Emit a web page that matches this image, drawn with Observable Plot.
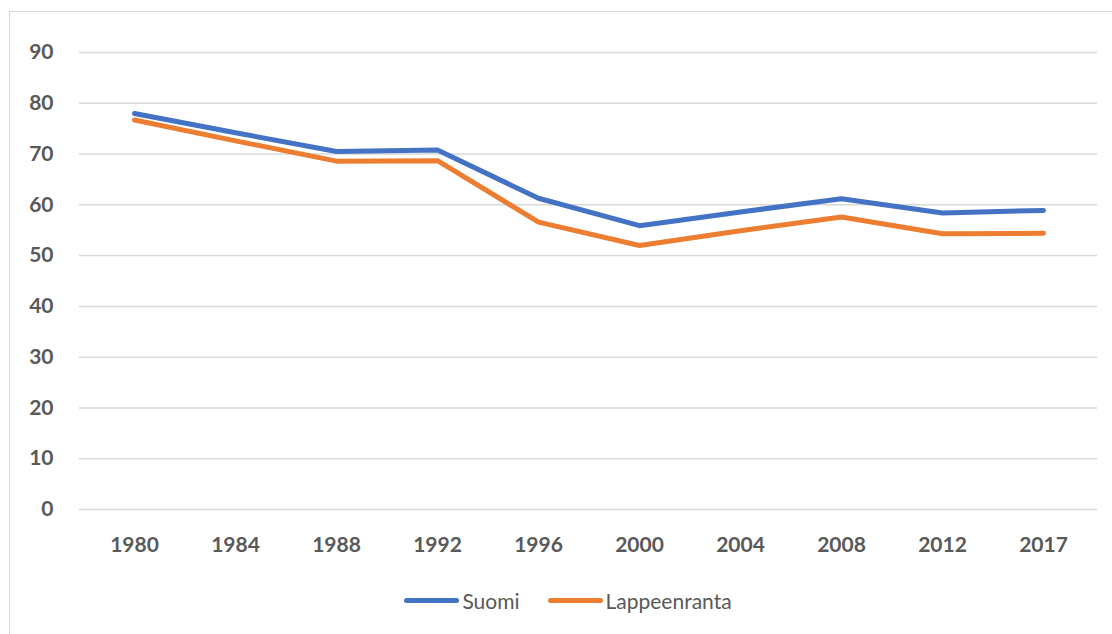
<!DOCTYPE html>
<html>
<head>
<meta charset="utf-8">
<script src="https://cdn.jsdelivr.net/npm/d3@7"></script>
<script src="https://cdn.jsdelivr.net/npm/@observablehq/plot@0.6"></script>
<style>
  html, body { margin: 0; padding: 0; background: #fff; width: 1112px; height: 634px; overflow: hidden; }
  #frame { position: absolute; left: 9px; top: 11px; width: 1200px; height: 700px; border: 1.5px solid #d9d9d9; box-sizing: border-box; }
  #chart { position: absolute; left: 0; top: 0; }
  #legend { position: absolute; left: 12px; top: 588px; width: 1112px; display: flex; justify-content: center; align-items: center;
            font-family: Lato, "Liberation Sans", sans-serif; font-size: 21px; color: #595959; }
  .item { display: flex; align-items: center; margin: 0 14px; }
  .sw { width: 55px; height: 5px; border-radius: 3px; margin-right: 3px; }
</style>
</head>
<body>
<div id="frame"></div>
<div id="chart"></div>
<div id="legend"></div>
<script>
const years = ["1980","1984","1988","1992","1996","2000","2004","2008","2012","2017"];
const suomi = [78.0, 74.2, 70.5, 70.8, 61.3, 55.9, 58.6, 61.2, 58.4, 58.9];
const lappeenranta = [76.7, 72.6, 68.6, 68.7, 56.6, 52.0, 54.9, 57.6, 54.3, 54.4];
const seriesNames = ["Suomi", "Lappeenranta"];
const seriesColors = ["#4472C4", "#ED7D31"];
const yTicks = [0,10,20,30,40,50,60,70,80,90];

const rows = [];
years.forEach((y, i) => {
  rows.push({year: y, value: suomi[i], series: seriesNames[0]});
  rows.push({year: y, value: lappeenranta[i], series: seriesNames[1]});
});

const chart = Plot.plot({
  width: 1112,
  height: 575,
  marginLeft: 79,
  marginRight: 15,
  marginTop: 52,
  marginBottom: 66,
  style: {fontFamily: "Lato, 'Liberation Sans', sans-serif", fontSize: "21px", fontWeight: "bold", color: "#595959", background: "transparent"},
  x: {type: "point", domain: years, padding: 0.5, label: null},
  y: {domain: [0, 90], label: null},
  color: {domain: seriesNames, range: seriesColors},
  marks: [
    Plot.gridY(yTicks, {stroke: "#d9d9d9", strokeOpacity: 1, strokeWidth: 1.5}),
    Plot.axisY({ticks: yTicks, tickSize: 0, tickPadding: 26, label: null, fill: "#595959"}),
    Plot.axisX({tickSize: 0, tickPadding: 28, label: null, fill: "#595959"}),
    Plot.line(rows, {x: "year", y: "value", stroke: "series", z: "series", strokeWidth: 5, strokeLinecap: "round", strokeLinejoin: "round"})
  ]
});
document.getElementById("chart").appendChild(chart);

const legend = document.getElementById("legend");
seriesNames.forEach((n, i) => {
  const item = document.createElement("div");
  item.className = "item";
  const sw = document.createElement("div");
  sw.className = "sw";
  sw.style.background = seriesColors[i];
  const t = document.createElement("span");
  t.textContent = n;
  item.appendChild(sw);
  item.appendChild(t);
  legend.appendChild(item);
});
</script>
</body>
</html>
